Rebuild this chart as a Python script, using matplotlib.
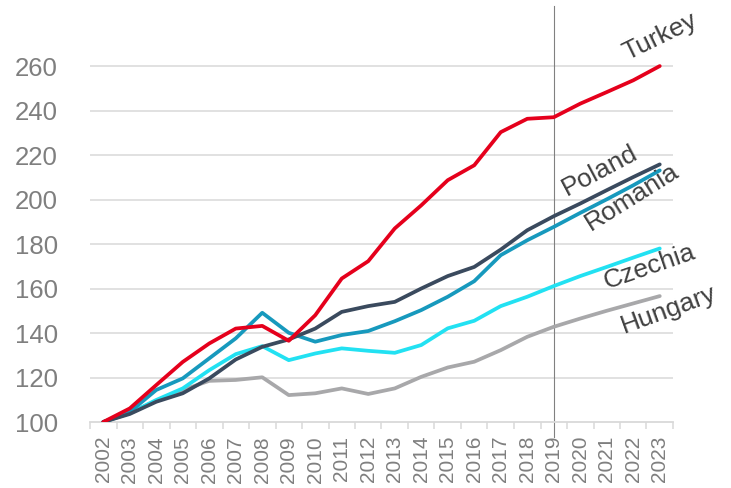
import matplotlib
matplotlib.use("Agg")
import matplotlib.pyplot as plt
import numpy as np

years = [str(y) for y in range(2002, 2024)]
turkey = [100, 106.1, 116.6, 127, 135.3, 142, 143.2, 136.5, 148, 164.5, 172.3, 187,
          197.4, 208.7, 215.4, 230.3, 236.3, 237, 243.1, 248.3, 253.6, 260]
poland = [100, 103.6, 109.1, 112.9, 119.6, 128.1, 133.8, 137.1, 142, 149.5, 152.1, 154,
          160, 165.6, 169.7, 177.5, 186.2, 192.5, 198.2, 204.2, 210.1, 215.8]
romania = [100, 104.5, 114.4, 119.6, 128.6, 137.6, 149.1, 140.1, 136.1, 139.1, 140.9, 145.3,
           150.3, 156.3, 163.3, 175, 181.7, 187.7, 194, 200.1, 206.4, 213.1]
czechia = [100, 104, 109.9, 115.1, 123.3, 130.5, 134.1, 127.8, 130.8, 133.1, 132, 131.1,
           134.6, 142.1, 145.5, 152.1, 156.3, 161.1, 165.6, 169.7, 173.9, 178]
hungary = [100, 104, 109.5, 114.4, 118.5, 118.9, 120.1, 112.1, 112.9, 115.1, 112.6, 115.1,
           120.3, 124.5, 127.1, 132.3, 138.3, 142.8, 146.5, 150, 153.3, 156.6]
yticks = [100, 120, 140, 160, 180, 200, 220, 240, 260]
split_year = "2019"

plt.rcParams['font.family'] = ['Liberation Sans', 'DejaVu Sans']

fig = plt.figure(figsize=(7.31, 4.88), dpi=100)
W, H = 731, 488
ax = fig.add_axes([90 / W, (H - 422) / H, (673 - 90) / W, (422 - 6) / H])

x = np.arange(len(years))
series = [
    ("Hungary", hungary, "#a8a8aa"),
    ("Czechia", czechia, "#22e1f2"),
    ("Romania", romania, "#1799bd"),
    ("Poland", poland, "#3a4a5e"),
    ("Turkey", turkey, "#e5001c"),
]
for name, vals, col in series:
    ax.plot(x, vals, color=col, lw=2.7, solid_capstyle='round', zorder=3)

ax.set_xlim(-0.5, len(years) - 0.5)
ax.set_ylim(100, 287)

for yt in yticks[1:]:
    ax.axhline(yt, color="#d9d9d9", lw=1.1, zorder=1)

ax.set_yticks(yticks)
ax.set_yticklabels([str(v) for v in yticks])
ax.tick_params(axis='y', length=0, pad=23, labelsize=18.5, labelcolor="#7f7f7f")

ax.set_xticks(x)
ax.set_xticklabels(years, rotation=90)
ax.tick_params(axis='x', which='major', length=0, pad=10, labelsize=15, labelcolor="#7f7f7f")
ax.set_xticks(np.arange(-0.5, len(years), 1), minor=True)
ax.tick_params(axis='x', which='minor', length=5, width=1.1, color="#d9d9d9")

for s in ['top', 'right', 'left']:
    ax.spines[s].set_visible(False)
ax.spines['bottom'].set_color("#d9d9d9")
ax.spines['bottom'].set_linewidth(1.3)

xi = years.index(split_year)
ax.plot([xi, xi], [93.3, 287], color="#808080", lw=0.8, clip_on=False, zorder=2)

labels = [
    ("Turkey", 21.0, 273.0, 26),
    ("Poland", 18.74, 213.2, 28),
    ("Romania", 19.95, 201.0, 32),
    ("Czechia", 20.63, 169.6, 19),
    ("Hungary", 21.35, 150.3, 20),
]
for txt, lx, ly, rot in labels:
    ax.text(lx, ly, txt, rotation=rot, rotation_mode='anchor', ha='center', va='center',
            fontsize=19, color="#404040", zorder=4, clip_on=False)

fig.savefig("out.png", dpi=100)
